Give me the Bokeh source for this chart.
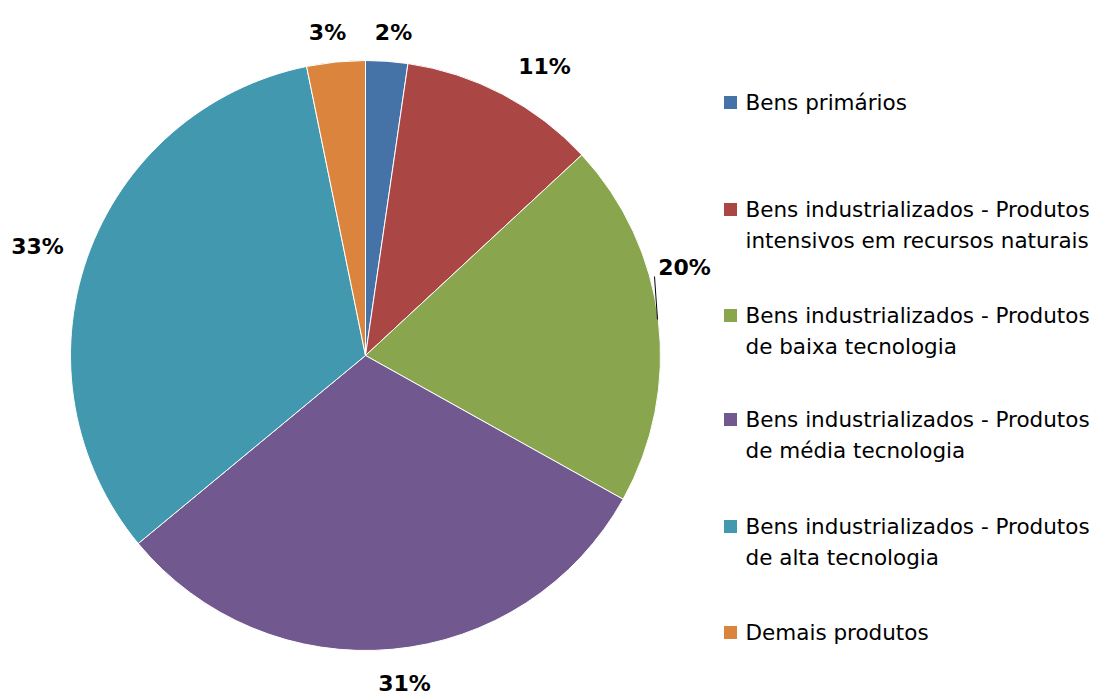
import numpy as np
from bokeh.plotting import figure
from bokeh.models import Range1d, ColumnDataSource
from bokeh.core.properties import value
from bokeh.embed import file_html
from bokeh.resources import INLINE

# ---- data ----
categories = [
    "Bens primários",
    "Bens industrializados - Produtos\nintensivos em recursos naturais",
    "Bens industrializados - Produtos\nde baixa tecnologia",
    "Bens industrializados - Produtos\nde média tecnologia",
    "Bens industrializados - Produtos\nde alta tecnologia",
    "Demais produtos",
]
shares = [2.3, 10.8, 20.0, 30.9, 32.8, 3.2]
colors = ["#4572A7", "#AA4643", "#89A54E", "#71588F", "#4198AF", "#DB843D"]

# ---- layout (screen pixel coordinates, y measured from top) ----
W, H = 1101, 696
cx, cy, R = 365, 355, 295
label_x = [393, 544, 684, 404, 37, 327]
label_y = [32, 66, 267, 683, 246, 32]
legend_y = [102, 209, 315, 419, 526, 632]
legend_sq_x = 730
legend_txt_x = 745
line_gap = 31

def Y(y):
    return H - y

vals = np.array(shares, dtype=float)
frac = vals / vals.sum()
cum = np.cumsum(frac)
start = np.pi / 2 - 2 * np.pi * np.concatenate([[0], cum[:-1]])
end = np.pi / 2 - 2 * np.pi * cum

p = figure(width=W, height=H, output_backend="svg", toolbar_location=None,
           x_range=Range1d(0, W), y_range=Range1d(0, H), min_border=0)
p.axis.visible = False
p.grid.visible = False
p.outline_line_color = None
p.background_fill_color = "white"
p.border_fill_color = "white"

src = ColumnDataSource(dict(start=start, end=end, color=colors))
p.wedge(x=cx, y=Y(cy), radius=R, start_angle="start", end_angle="end",
        direction="clock", fill_color="color", line_color="white",
        line_width=1, source=src)

# percentage labels
pct = [f"{round(v):d}%" for v in shares]
p.text(x=label_x, y=[Y(v) for v in label_y], text=pct,
       text_font=value("DejaVu Sans"), text_font_style="bold",
       text_font_size="22px", text_align="center", text_baseline="middle",
       text_color="black")

# leader line for the 20% label
p.segment(x0=[654], y0=[Y(276)], x1=[657], y1=[Y(319)], line_color="black", line_width=1)

# legend
p.rect(x=[legend_sq_x] * len(categories), y=[Y(v) for v in legend_y],
       width=13, height=13, fill_color=colors, line_color=None)
for cat, ly in zip(categories, legend_y):
    for i, line in enumerate(cat.split("\n")):
        p.text(x=[legend_txt_x], y=[Y(ly + i * line_gap)], text=[line],
               text_font=value("DejaVu Sans"), text_font_size="21.5px",
               text_align="left", text_baseline="middle", text_color="black")

open("out.html", "w").write(file_html(p, INLINE))
